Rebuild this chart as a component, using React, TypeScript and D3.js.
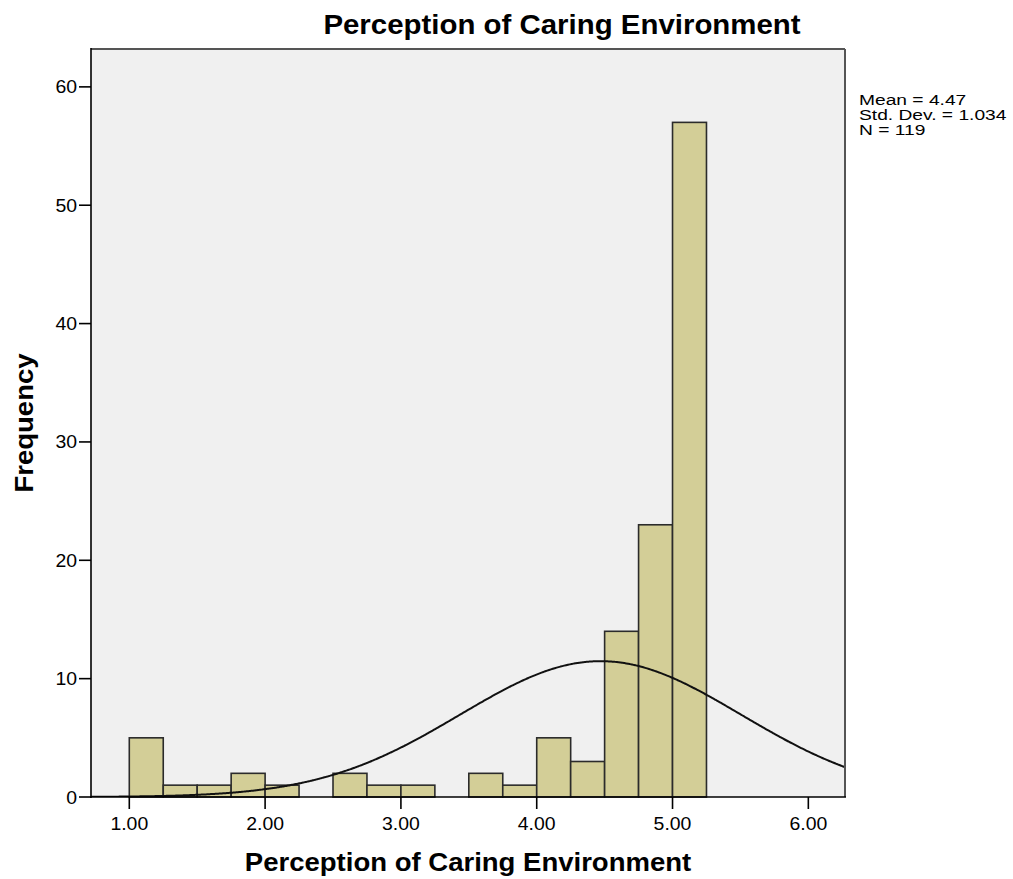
import React from "react";
import * as d3 from "d3";

const binStarts = [1.0, 1.25, 1.5, 1.75, 2.0, 2.25, 2.5, 2.75, 3.0, 3.25, 3.5, 3.75, 4.0, 4.25, 4.5, 4.75, 5.0];
const counts = [5, 1, 1, 2, 1, 0, 2, 1, 1, 0, 2, 1, 5, 3, 14, 23, 57];
const binWidth = 0.25;
const xTicks = [1, 2, 3, 4, 5, 6];
const yTicks = [0, 10, 20, 30, 40, 50, 60];
const statLines = ["Mean = 4.47", "Std. Dev. = 1.034", "N = 119"];
const mean = 4.47;
const sd = 1.034;
const nObs = 119;
const title = "Perception of Caring Environment";
const xTitle = "Perception of Caring Environment";
const yTitle = "Frequency";

const W = 1013;
const H = 879;
const L = 91, R = 845, T = 49, B = 797;
const FONT = "'Liberation Sans', Arial, sans-serif";

function SText({ x, y, sx = 1.08, size, bold = false, anchor = "start", rotate = 0, children }: any) {
  const tr = `translate(${x},${y})${rotate ? ` rotate(${rotate})` : ""} scale(${sx},1)`;
  return (
    <text transform={tr} fontFamily={FONT} fontSize={size} fontWeight={bold ? "bold" : "normal"} textAnchor={anchor} fill="#000">
      {children}
    </text>
  );
}

export default function App() {
  const x = d3.scaleLinear().domain([0.718, 6.27]).range([L, R]);
  const y = d3.scaleLinear().domain([0, 63.2]).range([B, T]);

  const pdf = (v: number) => (nObs * binWidth) / (sd * Math.sqrt(2 * Math.PI)) * Math.exp(-0.5 * ((v - mean) / sd) ** 2);
  const xs = d3.range(0, 401).map((i) => 0.718 + (i / 400) * (6.27 - 0.718));
  const line = d3.line<number>().x((v) => x(v)).y((v) => y(pdf(v))).curve(d3.curveBasis);

  return (
    <svg width={W} height={H} style={{ position: "absolute", left: 0, top: 0, background: "#fff" }}>
      <rect x={L} y={T} width={R - L} height={B - T} fill="#f0f0f0" />
      <defs>
        <clipPath id="plot">
          <rect x={L} y={T} width={R - L} height={B - T} />
        </clipPath>
      </defs>
      {binStarts.map((s, i) =>
        counts[i] > 0 ? (
          <rect
            key={i}
            x={x(s)}
            y={y(counts[i])}
            width={x(s + binWidth) - x(s)}
            height={y(0) - y(counts[i])}
            fill="#d3ce97"
            stroke="#2b2b2b"
            strokeWidth={1.6}
          />
        ) : null
      )}
      <path d={line(xs) || ""} fill="none" stroke="#111" strokeWidth={2} clipPath="url(#plot)" />
      {/* frame */}
      <line x1={L} y1={T} x2={R} y2={T} stroke="#555" strokeWidth={2} />
      <line x1={R} y1={T} x2={R} y2={B} stroke="#555" strokeWidth={2} />
      <line x1={L} y1={T - 1} x2={L} y2={B + 1} stroke="#000" strokeWidth={1.6} />
      <line x1={L - 1} y1={B} x2={R + 1} y2={B} stroke="#000" strokeWidth={1.6} />
      {/* y ticks */}
      {yTicks.map((t) => (
        <g key={t}>
          <line x1={L - 12} x2={L} y1={y(t)} y2={y(t)} stroke="#000" strokeWidth={1.6} />
          <SText x={L - 14} y={y(t) + 6.5} size={18} anchor="end">{String(t)}</SText>
        </g>
      ))}
      {/* x ticks */}
      {xTicks.map((t) => (
        <g key={t}>
          <line x1={x(t)} x2={x(t)} y1={B} y2={B + 12} stroke="#000" strokeWidth={1.6} />
          <SText x={x(t)} y={830} size={18} anchor="middle">{t.toFixed(2)}</SText>
        </g>
      ))}
      <SText x={562} y={34} size={27.5} sx={1.07} bold anchor="middle">{title}</SText>
      <SText x={(L + R) / 2} y={871} size={25.5} bold anchor="middle">{xTitle}</SText>
      <SText x={33} y={(T + B) / 2} size={25.5} bold anchor="middle" rotate={-90}>{yTitle}</SText>
      {statLines.map((s, i) => (
        <SText key={i} x={859} y={105 + i * 15} size={15.5} sx={1.24}>{s}</SText>
      ))}
    </svg>
  );
}
